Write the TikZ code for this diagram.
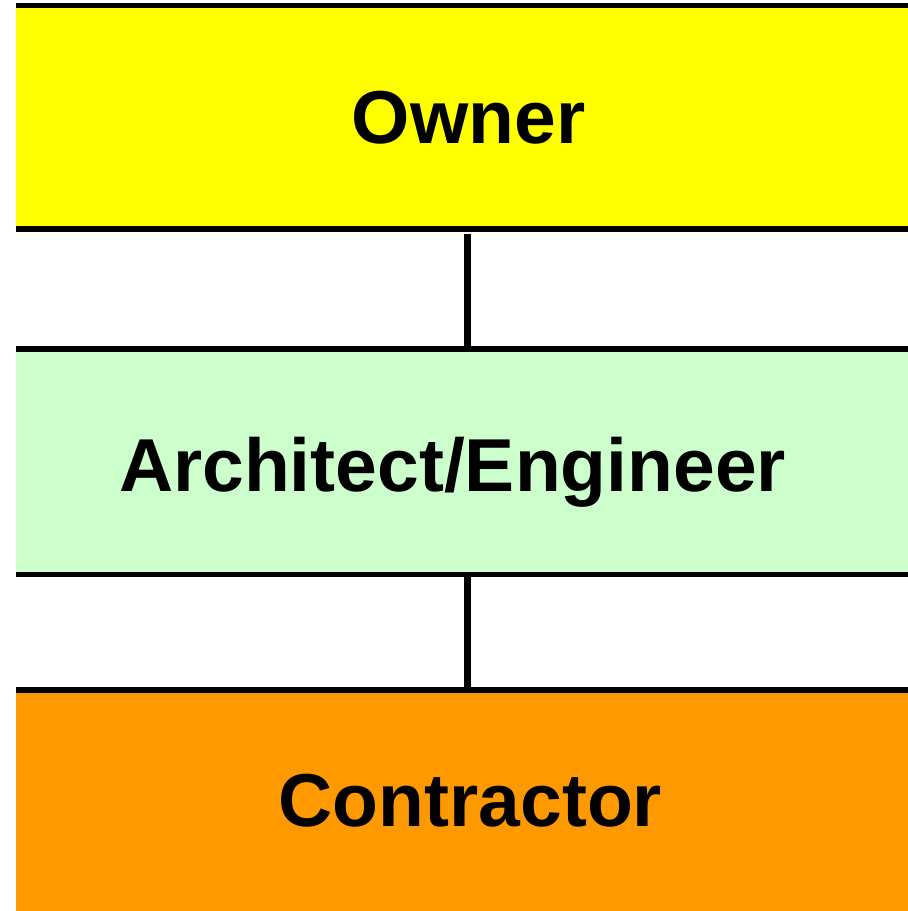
\documentclass[tikz,border=0pt]{standalone}
\usepackage{fontspec}
\setmainfont{Liberation Sans}
\definecolor{ownerY}{HTML}{FFFF00}
\definecolor{aeG}{HTML}{CCFFCC}
\definecolor{conO}{HTML}{FF9900}
\begin{document}
\begin{tikzpicture}[x=1pt,y=-1pt,
  band/.style={rectangle,inner sep=0pt,outer sep=0pt,minimum width=900pt,anchor=north west},
  bandedge/.style={line width=5.5pt},
  link/.style={line width=6.5pt},
  bandtext/.style={anchor=base,inner sep=0pt,font=\fontsize{75}{80}\selectfont\bfseries}]
\useasboundingbox (0,0) rectangle (908,911);
\node[band,fill=ownerY,minimum height=223.5pt] (owner) at (16,5.5) {};
\node[band,fill=aeG,minimum height=225.5pt] (ae) at (16,349) {};
\node[band,fill=conO,minimum height=223pt] (con) at (16,690) {};
\draw[bandedge] (owner.north west) -- (owner.north east);
\draw[bandedge] (owner.south west) -- (owner.south east);
\draw[bandedge] (ae.north west) -- (ae.north east);
\draw[bandedge] (ae.south west) -- (ae.south east);
\draw[bandedge] (con.north west) -- (con.north east);
\draw[link] ([xshift=1.5pt,yshift=-5pt]owner.south) -- ([xshift=1.5pt]ae.north);
\draw[link] ([xshift=1.5pt]ae.south) -- ([xshift=1.5pt]con.north);
\node[bandtext] (ownerT) at (468.5,143) {Owner};
\node[bandtext] (aeT) at (452.5,491) {Architect/Engineer};
\node[bandtext] (conT) at (470.5,826) {Contractor};
\end{tikzpicture}
\end{document}
